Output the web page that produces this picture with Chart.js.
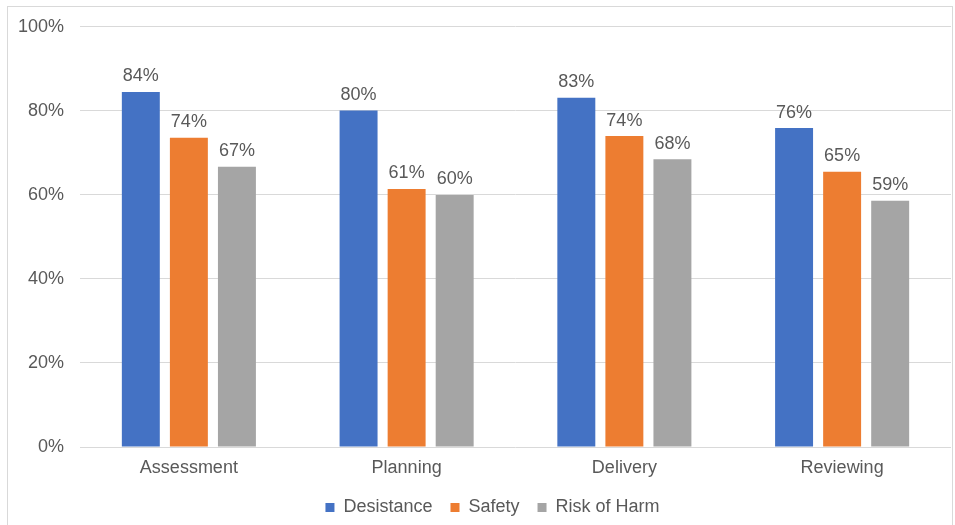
<!DOCTYPE html>
<html>
<head>
<meta charset="utf-8">
<script src="https://cdn.jsdelivr.net/npm/chart.js@4/dist/chart.umd.min.js"></script>
<style>
  html, body { margin: 0; padding: 0; background: #fff; }
  #wrap { position: relative; width: 955px; height: 525px; overflow: hidden; }
  #frame { position: absolute; left: 7px; top: 6px; width: 946px; height: 560px; border: 1px solid #d9d9d9; box-sizing: border-box; }
  canvas { position: absolute; left: 0; top: 0; }
</style>
</head>
<body>
<div id="wrap">
  <div id="frame"></div>
  <canvas id="c" width="955" height="525"></canvas>
</div>
<script>
const categories = ["Assessment", "Planning", "Delivery", "Reviewing"];
const desistance = [84.49, 80.1, 83.1, 75.9];
const safety = [73.6, 61.4, 74.0, 65.49];
const riskOfHarm = [66.7, 60.0, 68.49, 58.6];
const yTicks = [0, 20, 40, 60, 80, 100];

const FONT = "'Liberation Sans', Arial, sans-serif";
const TEXT = "#595959";

const dataLabels = {
  id: 'dataLabels',
  afterDatasetsDraw(chart) {
    const ctx = chart.ctx;
    ctx.save();
    ctx.font = "18px " + FONT;
    ctx.fillStyle = TEXT;
    ctx.textAlign = 'center';
    ctx.textBaseline = 'alphabetic';
    chart.data.datasets.forEach((ds, i) => {
      const meta = chart.getDatasetMeta(i);
      meta.data.forEach((bar, j) => {
        ctx.fillText(Math.round(ds.data[j]) + '%', bar.x, bar.y - 10.5);
      });
    });
    ctx.restore();
  }
};

// centre the legend row like the reference (slightly right of the canvas centre)
const legendShift = {
  id: 'legendShift',
  beforeDraw(chart) {
    if (chart.legend) { chart.legend.left = 34; chart.legend.right = 951; }
  }
};

new Chart(document.getElementById('c'), {
  type: 'bar',
  data: {
    labels: categories,
    datasets: [
      { label: 'Desistance', data: desistance, backgroundColor: '#4472C4' },
      { label: 'Safety', data: safety, backgroundColor: '#ED7D31' },
      { label: 'Risk of Harm', data: riskOfHarm, backgroundColor: '#A5A5A5' }
    ]
  },
  options: {
    responsive: false,
    animation: false,
    devicePixelRatio: 1,
    datasets: { bar: { categoryPercentage: 0.662, barPercentage: 0.79 } },
    layout: { padding: { top: 24, right: 4, left: 0, bottom: -1.5 } },
    plugins: {
      tooltip: { enabled: false },
      legend: {
        position: 'bottom',
        labels: {
          font: { size: 18, family: FONT },
          color: TEXT,
          boxWidth: 9,
          boxHeight: 9,
          padding: 18
        }
      }
    },
    scales: {
      x: {
        grid: { display: false },
        border: { display: false },
        ticks: { font: { size: 18, family: FONT }, color: TEXT, padding: 2 },
        afterFit(scale) { scale.height = 33.5; }
      },
      y: {
        min: 0, max: 100,
        afterBuildTicks(scale) { scale.ticks = yTicks.map(v => ({ value: v })); },
        grid: { color: '#d9d9d9', lineWidth: 1, drawTicks: false },
        border: { display: false },
        ticks: {
          font: { size: 18, family: FONT }, color: TEXT, padding: 16,
          callback: v => v + '%'
        },
        afterFit(scale) { scale.width = 80; }
      }
    }
  },
  plugins: [dataLabels, legendShift]
});
</script>
</body>
</html>
